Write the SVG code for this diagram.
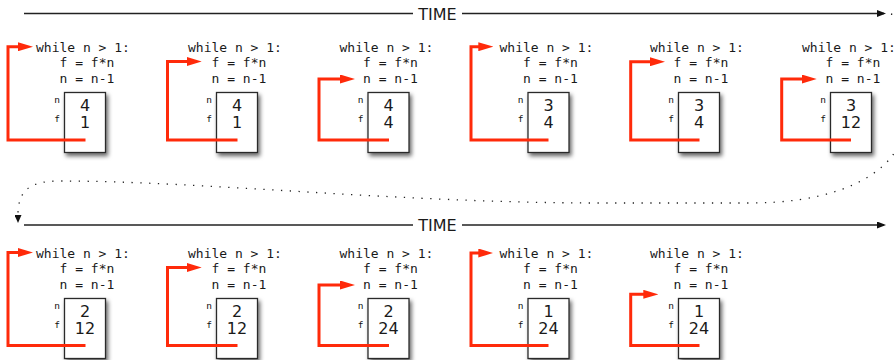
<svg xmlns="http://www.w3.org/2000/svg" width="896" height="360" viewBox="0 0 896 360">
<defs>
<style>
.code{font-family:"DejaVu Sans Mono","Liberation Mono",monospace;font-size:13px;fill:#1a1a1a}
.lbl{font-family:"DejaVu Sans Mono","Liberation Mono",monospace;font-size:9.5px;fill:#111;text-anchor:end}
.val{font-family:"DejaVu Sans","Liberation Sans",sans-serif;font-size:16px;fill:#1a1a1a;text-anchor:middle}
.time{font-family:"DejaVu Sans","Liberation Sans",sans-serif;font-size:16px;fill:#1a1a1a;text-anchor:middle}
.box{fill:#fff;stroke:#2a2a2a;stroke-width:1.3;filter:url(#sh)}
.red{fill:none;stroke:#ff2a0a;stroke-width:3;marker-end:url(#ra)}
.tl{fill:none;stroke:#222;stroke-width:1.3}
.tla{fill:none;stroke:#222;stroke-width:1.3;marker-end:url(#ba)}
.dot{fill:none;stroke:#222;stroke-width:1.3;stroke-dasharray:1.3 7.5;marker-end:url(#da)}
</style>
<filter id="sh" x="-40%" y="-30%" width="180%" height="160%">
<feDropShadow dx="2" dy="3" stdDeviation="2" flood-color="#000" flood-opacity="0.6"/>
</filter>
<marker id="ra" markerUnits="userSpaceOnUse" markerWidth="15" markerHeight="9" refX="5" refY="4.5" orient="auto" viewBox="0 0 15 9">
<path d="M0,0 L15,4.5 L0,9 z" fill="#ff2a0a"/>
</marker>
<marker id="ba" markerUnits="userSpaceOnUse" markerWidth="9" markerHeight="7" refX="7" refY="3.5" orient="auto" viewBox="0 0 9 7">
<path d="M0,0 L9,3.5 L0,7 z" fill="#111"/>
</marker>
<marker id="da" markerUnits="userSpaceOnUse" markerWidth="8" markerHeight="7" refX="0" refY="3.5" orient="auto" viewBox="0 0 8 7">
<path d="M0,0 L8,3.5 L0,7 z" fill="#111"/>
</marker>
</defs>

<g id="timeline-top">
<path class="tl" d="M24 13.5 H413"/>
<path class="tla" d="M462 13.5 H884"/>
<text class="time" x="437.5" y="19.5">TIME</text>
</g>
<g id="timeline-bottom">
<path class="tl" d="M24 225 H413"/>
<path class="tla" d="M462 225 H884"/>
<text class="time" x="437.5" y="231">TIME</text>
</g>

<g id="p1">
<text class="code" x="36" y="51.5">while n &gt; 1:</text>
<text class="code" x="59.5" y="67">f = f*n</text>
<text class="code" x="59.5" y="82.5">n = n-1</text>
<rect class="box" x="64.5" y="92.5" width="41" height="60"/>
<text class="lbl" x="60" y="103.3">n</text><text class="lbl" x="60" y="121.7">f</text>
<text class="val" x="85" y="111">4</text><text class="val" x="85" y="128.3">1</text>
</g>
<g id="p2">
<text class="code" x="188" y="51.5">while n &gt; 1:</text>
<text class="code" x="211.5" y="67">f = f*n</text>
<text class="code" x="211.5" y="82.5">n = n-1</text>
<rect class="box" x="216.5" y="92.5" width="41" height="60"/>
<text class="lbl" x="212" y="103.3">n</text><text class="lbl" x="212" y="121.7">f</text>
<text class="val" x="237" y="111">4</text><text class="val" x="237" y="128.3">1</text>
</g>
<g id="p3">
<text class="code" x="339.5" y="51.5">while n &gt; 1:</text>
<text class="code" x="363" y="67">f = f*n</text>
<text class="code" x="363" y="82.5">n = n-1</text>
<rect class="box" x="368" y="92.5" width="41" height="60"/>
<text class="lbl" x="363.5" y="103.3">n</text><text class="lbl" x="363.5" y="121.7">f</text>
<text class="val" x="388.5" y="111">4</text><text class="val" x="388.5" y="128.3">4</text>
</g>
<g id="p4">
<text class="code" x="499.5" y="51.5">while n &gt; 1:</text>
<text class="code" x="523" y="67">f = f*n</text>
<text class="code" x="523" y="82.5">n = n-1</text>
<rect class="box" x="528" y="92.5" width="41" height="60"/>
<text class="lbl" x="523.5" y="103.3">n</text><text class="lbl" x="523.5" y="121.7">f</text>
<text class="val" x="548.5" y="111">3</text><text class="val" x="548.5" y="128.3">4</text>
</g>
<g id="p5">
<text class="code" x="650" y="51.5">while n &gt; 1:</text>
<text class="code" x="673.5" y="67">f = f*n</text>
<text class="code" x="673.5" y="82.5">n = n-1</text>
<rect class="box" x="678.5" y="92.5" width="41" height="60"/>
<text class="lbl" x="674" y="103.3">n</text><text class="lbl" x="674" y="121.7">f</text>
<text class="val" x="699" y="111">3</text><text class="val" x="699" y="128.3">4</text>
</g>
<g id="p6">
<text class="code" x="802" y="51.5">while n &gt; 1:</text>
<text class="code" x="825.5" y="67">f = f*n</text>
<text class="code" x="825.5" y="82.5">n = n-1</text>
<rect class="box" x="830.5" y="92.5" width="41" height="60"/>
<text class="lbl" x="826" y="103.3">n</text><text class="lbl" x="826" y="121.7">f</text>
<text class="val" x="851" y="111">3</text><text class="val" x="851" y="128.3">12</text>
</g>

<g id="q1">
<text class="code" x="36" y="257.5">while n &gt; 1:</text>
<text class="code" x="59.5" y="273">f = f*n</text>
<text class="code" x="59.5" y="288.5">n = n-1</text>
<rect class="box" x="64.5" y="298.5" width="41" height="60"/>
<text class="lbl" x="60" y="309.3">n</text><text class="lbl" x="60" y="327.7">f</text>
<text class="val" x="85" y="317">2</text><text class="val" x="85" y="334.3">12</text>
</g>
<g id="q2">
<text class="code" x="188" y="257.5">while n &gt; 1:</text>
<text class="code" x="211.5" y="273">f = f*n</text>
<text class="code" x="211.5" y="288.5">n = n-1</text>
<rect class="box" x="216.5" y="298.5" width="41" height="60"/>
<text class="lbl" x="212" y="309.3">n</text><text class="lbl" x="212" y="327.7">f</text>
<text class="val" x="237" y="317">2</text><text class="val" x="237" y="334.3">12</text>
</g>
<g id="q3">
<text class="code" x="339.5" y="257.5">while n &gt; 1:</text>
<text class="code" x="363" y="273">f = f*n</text>
<text class="code" x="363" y="288.5">n = n-1</text>
<rect class="box" x="368" y="298.5" width="41" height="60"/>
<text class="lbl" x="363.5" y="309.3">n</text><text class="lbl" x="363.5" y="327.7">f</text>
<text class="val" x="388.5" y="317">2</text><text class="val" x="388.5" y="334.3">24</text>
</g>
<g id="q4">
<text class="code" x="499.5" y="257.5">while n &gt; 1:</text>
<text class="code" x="523" y="273">f = f*n</text>
<text class="code" x="523" y="288.5">n = n-1</text>
<rect class="box" x="528" y="298.5" width="41" height="60"/>
<text class="lbl" x="523.5" y="309.3">n</text><text class="lbl" x="523.5" y="327.7">f</text>
<text class="val" x="548.5" y="317">1</text><text class="val" x="548.5" y="334.3">24</text>
</g>
<g id="q5">
<text class="code" x="650" y="257.5">while n &gt; 1:</text>
<text class="code" x="673.5" y="273">f = f*n</text>
<text class="code" x="673.5" y="288.5">n = n-1</text>
<rect class="box" x="678.5" y="298.5" width="41" height="60"/>
<text class="lbl" x="674" y="309.3">n</text><text class="lbl" x="674" y="327.7">f</text>
<text class="val" x="699" y="317">1</text><text class="val" x="699" y="334.3">24</text>
</g>

<g id="connectors">
<path class="red" d="M85.5 140 H8 V46.7 H23"/>
<path class="red" d="M237.5 140 H167.5 V61.5 H191.7"/>
<path class="red" d="M389 140 H319 V79 H345"/>
<path class="red" d="M548.5 140 H471 V46.7 H483.3"/>
<path class="red" d="M699.5 140 H630.7 V61.7 H655"/>
<path class="red" d="M851 140 H781.7 V79 H806.7"/>
<path class="red" d="M85.5 345.5 H8 V252.5 H23"/>
<path class="red" d="M237.5 345.5 H167.5 V267.5 H191.7"/>
<path class="red" d="M389 345.5 H319 V285 H345"/>
<path class="red" d="M548.5 345.5 H471 V253 H483.3"/>
<path class="red" d="M699.5 345.5 H630.7 V294.3 H648.3"/>
<path class="dot" d="M891 14 C920 20 915 110 893 155 C870 185 820 203 750 203 L600 203 C400 203 200 181 60 181 C30 181 18 190 18 215"/>
</g>
</svg>
